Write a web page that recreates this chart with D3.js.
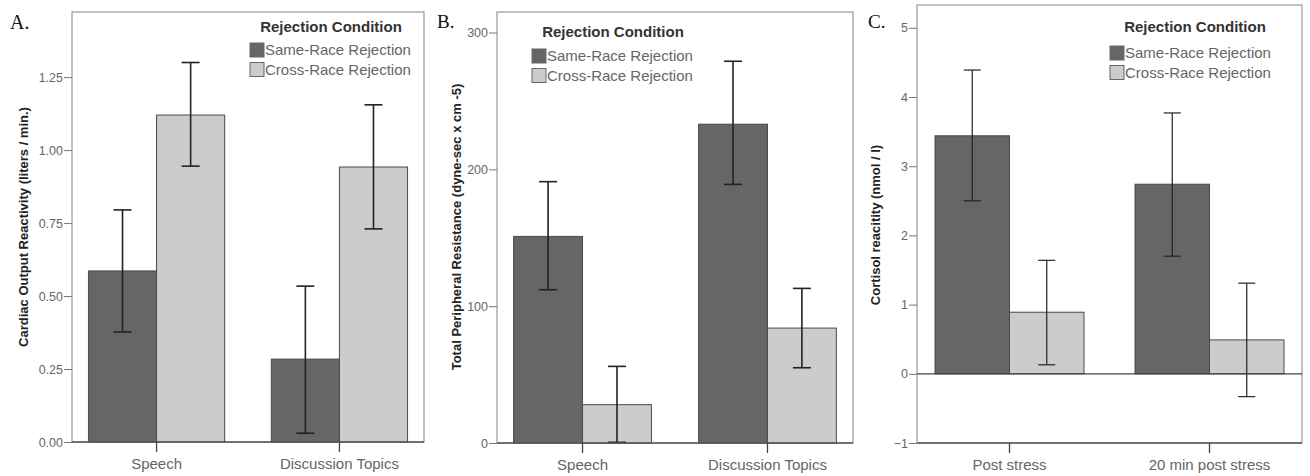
<!DOCTYPE html>
<html>
<head>
<meta charset="utf-8">
<script src="https://cdn.jsdelivr.net/npm/d3@7"></script>
<style>
  html, body { margin: 0; padding: 0; background: #fff; }
  svg { display: block; }
  .tick text { font-family: "Liberation Sans", Arial, sans-serif; fill: #666; }
</style>
</head>
<body>
<svg id="chart" width="1310" height="476"></svg>
<script>
const seriesNames = ['Same-Race Rejection', 'Cross-Race Rejection'];
const legendTitle = 'Rejection Condition';

const taskCategories = ['Speech', 'Discussion Topics'];
const timeCategories = ['Post stress', '20 min post stress'];

// A. cardiac output reactivity
const cardiacSame = [0.586, 0.284];
const cardiacSameLow = [0.377, 0.03];
const cardiacSameHigh = [0.795, 0.534];
const cardiacCross = [1.12, 0.942];
const cardiacCrossLow = [0.945, 0.73];
const cardiacCrossHigh = [1.30, 1.155];
const cardiacTicks = [0, 0.25, 0.5, 0.75, 1, 1.25];

// B. total peripheral resistance
const tprSame = [151, 233];
const tprSameLow = [112, 189];
const tprSameHigh = [191, 279];
const tprCross = [28, 84];
const tprCrossLow = [0.5, 55];
const tprCrossHigh = [56, 113];
const tprTicks = [0, 100, 200, 300];

// C. cortisol reactivity
const cortSame = [3.44, 2.74];
const cortSameLow = [2.50, 1.70];
const cortSameHigh = [4.39, 3.77];
const cortCross = [0.89, 0.49];
const cortCrossLow = [0.13, -0.33];
const cortCrossHigh = [1.64, 1.31];
const cortTicks = [-1, 0, 1, 2, 3, 4, 5];

const fillColors = ['#666666', '#cccccc'];
const sans = '"Liberation Sans", Arial, sans-serif';

const toRows = (cats, means, lows, highs) =>
  cats.map((c, i) => ({
    category: c,
    values: means.map((m, s) => ({ series: seriesNames[s], value: m[i], low: lows[s][i], high: highs[s][i] }))
  }));

const panels = [
  {
    letter: 'A.', letterX: 10, letterY: 29, letterSize: 20,
    left: 72, right: 424, top: 12, bottom: 442,
    domain: [0, 1.473], ticks: cardiacTicks, fmt: d3.format('.2f'),
    yTitle: 'Cardiac Output Reactivity (liters / min.)', yTitleX: 25, yTitleY: 227,
    legendX: 250, legendY: 43, legendTitleX: 331, legendTitleY: 32,
    capW: 18, errW: 1.6,
    rows: toRows(taskCategories, [cardiacSame, cardiacCross], [cardiacSameLow, cardiacCrossLow], [cardiacSameHigh, cardiacCrossHigh])
  },
  {
    letter: 'B.', letterX: 437, letterY: 28, letterSize: 19,
    left: 497, right: 853, top: 12, bottom: 443,
    domain: [0, 315], ticks: tprTicks, fmt: d3.format('d'),
    yTitle: 'Total Peripheral Resistance (dyne-sec x cm -5)', yTitleX: 458, yTitleY: 227,
    legendX: 532, legendY: 49, legendTitleX: 613, legendTitleY: 37,
    capW: 18, errW: 1.6,
    rows: toRows(taskCategories, [tprSame, tprCross], [tprSameLow, tprCrossLow], [tprSameHigh, tprCrossHigh])
  },
  {
    letter: 'C.', letterX: 868, letterY: 28, letterSize: 19,
    left: 917, right: 1302, top: 5, bottom: 443,
    domain: [-1, 5.33], ticks: cortTicks, fmt: d3.format('d'), zeroLine: true,
    yTitle: 'Cortisol reacitity (nmol / l)', yTitleX: 877, yTitleY: 225,
    legendX: 1110, legendY: 46, legendTitleX: 1195, legendTitleY: 32,
    capW: 17, errW: 1.2,
    rows: toRows(timeCategories, [cortSame, cortCross], [cortSameLow, cortCrossLow], [cortSameHigh, cortCrossHigh])
  }
];

const svg = d3.select('#chart');

panels.forEach(p => {
  const g = svg.append('g');

  const x = d3.scaleBand()
    .domain(p.rows.map(d => d.category))
    .range([p.left, p.right])
    .paddingInner(0.255)
    .paddingOuter(0.09);
  const xs = d3.scaleBand().domain(seriesNames).range([0, x.bandwidth()]);
  const y = d3.scaleLinear().domain(p.domain).range([p.bottom, p.top]);
  const base = y(Math.max(0, p.domain[0]));

  // frame
  g.append('rect')
    .attr('x', p.left).attr('y', p.top)
    .attr('width', p.right - p.left).attr('height', p.bottom - p.top)
    .attr('fill', 'none').attr('stroke', '#9a9a9a').attr('stroke-width', 1.2);

  // y axis
  const yAxis = g.append('g')
    .attr('transform', `translate(${p.left},0)`)
    .call(d3.axisLeft(y).tickValues(p.ticks).tickFormat(p.fmt).tickSize(8).tickPadding(1));
  yAxis.select('.domain').remove();
  yAxis.selectAll('.tick line').attr('stroke', '#777');
  yAxis.selectAll('.tick text').attr('font-size', 12.5);

  // bars
  const groups = g.selectAll('.cat').data(p.rows).join('g')
    .attr('class', 'cat')
    .attr('transform', d => `translate(${x(d.category)},0)`);

  groups.selectAll('rect').data(d => d.values).join('rect')
    .attr('x', d => xs(d.series))
    .attr('width', xs.bandwidth())
    .attr('y', d => Math.min(y(d.value), base))
    .attr('height', d => Math.abs(base - y(d.value)))
    .attr('fill', (d, i) => fillColors[i])
    .attr('stroke', '#4a4a4a').attr('stroke-width', 1);

  // zero line for panel with negative range
  if (p.zeroLine) {
    g.append('line')
      .attr('x1', p.left).attr('x2', p.right)
      .attr('y1', y(0)).attr('y2', y(0))
      .attr('stroke', '#444').attr('stroke-width', 1.2);
  }

  // bottom axis line and category ticks
  g.append('line')
    .attr('x1', p.left).attr('x2', p.right)
    .attr('y1', p.bottom).attr('y2', p.bottom)
    .attr('stroke', '#555').attr('stroke-width', 1.5);

  const xAxis = g.append('g')
    .attr('transform', `translate(0,${p.bottom})`)
    .call(d3.axisBottom(x).tickSize(10).tickPadding(6));
  xAxis.select('.domain').remove();
  xAxis.selectAll('.tick line').attr('stroke', '#444').attr('stroke-width', 1.3);
  xAxis.selectAll('.tick text').attr('font-size', 15).attr('fill', '#555');

  // error bars
  const err = groups.selectAll('.err').data(d => d.values).join('g')
    .attr('class', 'err')
    .attr('transform', d => `translate(${xs(d.series) + xs.bandwidth() / 2},0)`)
    .attr('stroke', '#222').attr('stroke-width', p.errW);
  err.append('line').attr('y1', d => y(d.low)).attr('y2', d => y(d.high));
  err.append('line').attr('x1', -p.capW / 2).attr('x2', p.capW / 2)
    .attr('y1', d => y(d.high)).attr('y2', d => y(d.high));
  err.append('line').attr('x1', -p.capW / 2).attr('x2', p.capW / 2)
    .attr('y1', d => y(d.low)).attr('y2', d => y(d.low));

  // y title
  g.append('text')
    .attr('transform', `translate(${p.yTitleX},${p.yTitleY}) rotate(-90)`)
    .attr('text-anchor', 'middle').attr('dominant-baseline', 'middle')
    .attr('font-family', sans).attr('font-weight', 'bold').attr('font-size', 13)
    .attr('fill', '#222')
    .text(p.yTitle);

  // panel letter
  g.append('text')
    .attr('x', p.letterX).attr('y', p.letterY)
    .attr('font-family', '"Liberation Serif", "Times New Roman", serif')
    .attr('font-size', p.letterSize).attr('fill', '#111')
    .text(p.letter);

  // legend
  const lg = g.append('g');
  lg.append('text')
    .attr('x', p.legendTitleX).attr('y', p.legendTitleY)
    .attr('text-anchor', 'middle')
    .attr('font-family', sans).attr('font-weight', 'bold').attr('font-size', 15)
    .attr('fill', '#333')
    .text(legendTitle);
  const items = lg.selectAll('.item').data(seriesNames).join('g')
    .attr('class', 'item')
    .attr('transform', (d, i) => `translate(${p.legendX},${p.legendY + i * 19.5})`);
  items.append('rect')
    .attr('width', 14).attr('height', 14)
    .attr('fill', (d, i) => fillColors[i])
    .attr('stroke', '#666').attr('stroke-width', 1);
  items.append('text')
    .attr('x', 15).attr('y', 12)
    .attr('font-family', sans).attr('font-size', 15)
    .attr('fill', '#666')
    .text(d => d);
});
</script>
</body>
</html>
